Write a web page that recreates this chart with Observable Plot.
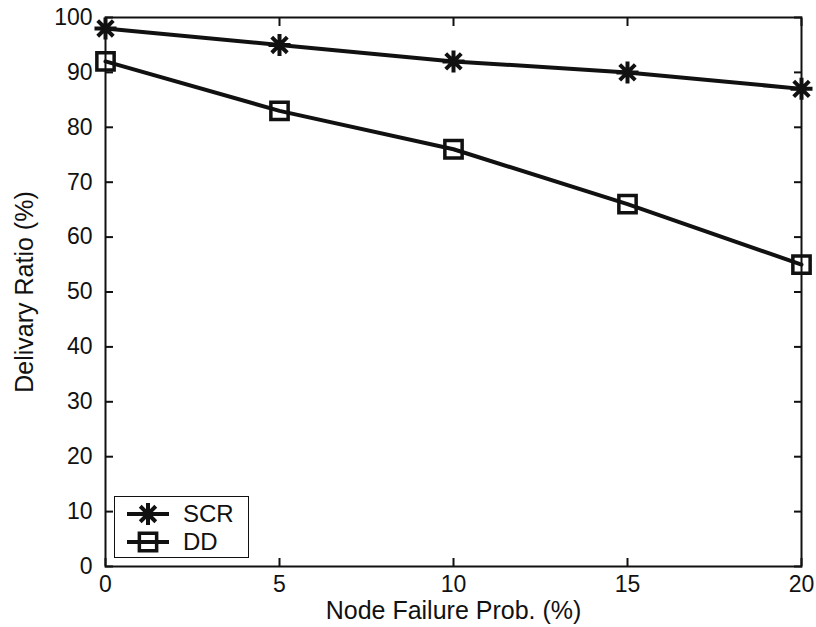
<!DOCTYPE html>
<html>
<head>
<meta charset="utf-8">
<script src="https://cdn.jsdelivr.net/npm/d3@7"></script>
<script src="https://cdn.jsdelivr.net/npm/@observablehq/plot@0.6"></script>
<style>
  html, body { margin: 0; padding: 0; background: #fff; }
  #wrap { position: relative; width: 816px; height: 627px; font-family: "Liberation Sans", Arial, Helvetica, sans-serif; }
  #legend { position: absolute; left: 114px; top: 496px; width: 133px; height: 60px; border: 1.5px solid #111; background: #fff; }
  .row { position: absolute; left: 0; height: 28px; display: flex; align-items: center; }
  .row span { font-size: 24px; color: #111; }
</style>
</head>
<body>
<div id="wrap"></div>
<script>
const xValues = [0, 5, 10, 15, 20];
const scrValues = [98, 95, 92, 90, 87];
const ddValues = [92, 83, 76, 66, 55];
const seriesNames = ["SCR", "DD"];
const xTicks = [0, 5, 10, 15, 20];
const yTicks = [0, 10, 20, 30, 40, 50, 60, 70, 80, 90, 100];
const xLabel = "Node Failure Prob. (%)";
const yLabel = "Delivary Ratio (%)";

const asterisk = {
  draw(context, size) {
    const r = Math.sqrt(size / Math.PI);
    for (let i = 0; i < 4; i++) {
      const a = i * Math.PI / 4;
      const dx = r * Math.cos(a), dy = r * Math.sin(a);
      context.moveTo(-dx, -dy);
      context.lineTo(dx, dy);
    }
  }
};

const rows = [];
xValues.forEach((x, i) => {
  rows.push({series: seriesNames[0], x, y: scrValues[i]});
  rows.push({series: seriesNames[1], x, y: ddValues[i]});
});
const scr = rows.filter(d => d.series === seriesNames[0]);
const dd = rows.filter(d => d.series === seriesNames[1]);

const ink = "#111";
const plot = Plot.plot({
  width: 816,
  height: 627,
  marginLeft: 105,
  marginRight: 15,
  marginTop: 17,
  marginBottom: 61,
  style: {fontFamily: "Liberation Sans, Arial, Helvetica, sans-serif", fontSize: "23px", color: ink, background: "#fff"},
  x: {domain: [0, 20], ticks: xTicks},
  y: {domain: [0, 100], ticks: yTicks},
  marks: [
    Plot.frame({stroke: ink, strokeWidth: 2}),
    Plot.axisX({ticks: xTicks, tickSize: -8, tickPadding: 17, label: null, strokeWidth: 2, fontSize: 23}),
    Plot.axisX({anchor: "top", ticks: xTicks, tickSize: -8, tickFormat: () => "", label: null, strokeWidth: 2}),
    Plot.axisY({ticks: yTicks, tickSize: -8, tickPadding: 21, label: null, strokeWidth: 2, fontSize: 23}),
    Plot.axisY({anchor: "right", ticks: yTicks, tickSize: -8, tickFormat: () => "", label: null, strokeWidth: 2}),
    Plot.text([xLabel], {frameAnchor: "bottom", text: d => d, dy: 44, fontSize: 25, lineAnchor: "middle", fill: ink}),
    Plot.text([yLabel], {frameAnchor: "left", text: d => d, dx: -81, rotate: -90, fontSize: 25, textAnchor: "middle", fill: ink}),
    Plot.line(scr, {x: "x", y: "y", stroke: ink, strokeWidth: 4}),
    Plot.line(dd, {x: "x", y: "y", stroke: ink, strokeWidth: 4}),
    Plot.dot(scr, {x: "x", y: "y", symbol: asterisk, r: 11, fill: "none", stroke: ink, strokeWidth: 4}),
    Plot.dot(dd, {x: "x", y: "y", symbol: "square2", r: 11, fill: "none", stroke: ink, strokeWidth: 3.5})
  ]
});

const wrap = document.getElementById("wrap");
wrap.appendChild(plot);

// Legend
const legend = document.createElement("div");
legend.id = "legend";
const symbols = [asterisk, d3.symbolSquare2];
seriesNames.forEach((name, i) => {
  const row = document.createElement("div");
  row.className = "row";
  row.style.top = (3 + i * 28) + "px";
  const svg = d3.create("svg").attr("width", 56).attr("height", 28).style("margin-left", "12px");
  svg.append("line").attr("x1", 0).attr("x2", 42).attr("y1", 14).attr("y2", 14).attr("stroke", ink).attr("stroke-width", 4);
  svg.append("path").attr("transform", "translate(21,14)")
    .attr("d", d3.symbol(symbols[i], Math.PI * 11 * 11)())
    .attr("fill", "none").attr("stroke", ink).attr("stroke-width", i === 0 ? 4 : 3.5);
  row.appendChild(svg.node());
  const span = document.createElement("span");
  span.textContent = name;
  row.appendChild(span);
  legend.appendChild(row);
});
wrap.appendChild(legend);
</script>
</body>
</html>
